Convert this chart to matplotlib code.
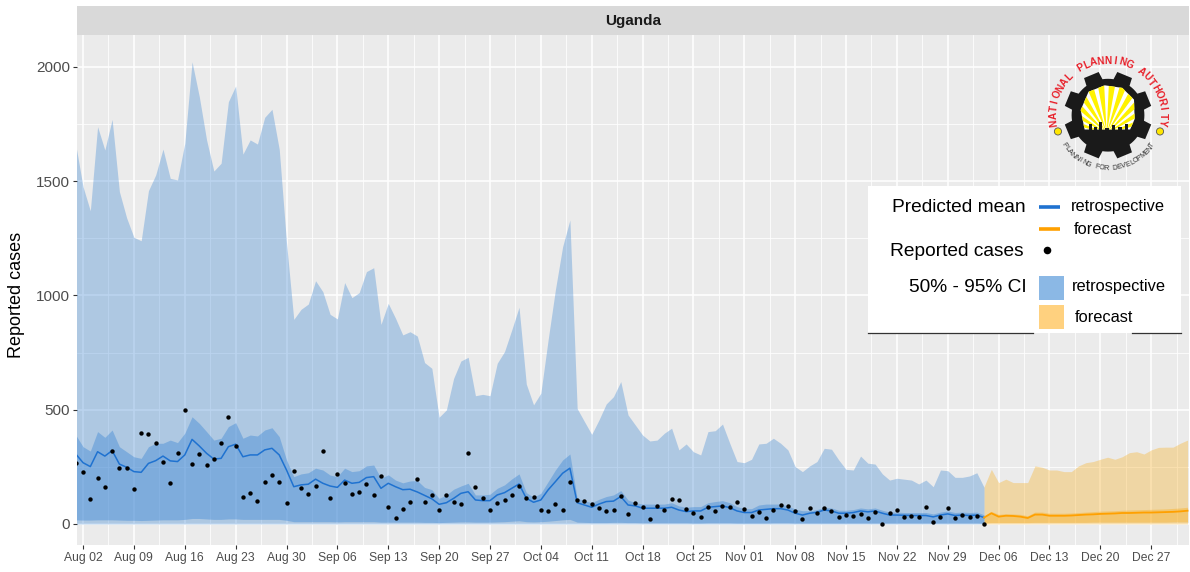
import numpy as np
import pandas as pd
import matplotlib
matplotlib.use('Agg')
import matplotlib.pyplot as plt
from matplotlib.patches import Rectangle, Polygon, Circle, Wedge
from matplotlib.lines import Line2D

plt.rcParams['font.family'] = ['Liberation Sans', 'DejaVu Sans']

# ---------------- data ----------------
country = "Uganda"
retro_start = "2021-08-01"
fore_start = "2021-12-04"

retro_upper95 = [1658,1475,1370,1738,1636,1770,1454,1339,1254,1239,
                 1458,1527,1640,1512,1505,1665,2022,1869,1680,1544,
                 1578,1847,1916,1618,1680,1662,1779,1814,1639,1230,
                 895,939,962,1064,1016,917,897,1056,990,1012,
                 1104,1121,873,965,900,827,841,822,706,681,
                 467,499,637,713,729,561,567,561,703,754,
                 849,948,612,521,572,805,1024,1213,1330,505,
                 448,392,455,525,557,623,477,433,389,363,
                 367,397,419,324,350,316,302,404,408,437,
                 353,273,268,283,350,353,375,353,324,251,
                 229,254,273,331,327,280,239,236,297,266,
                 262,219,192,200,196,192,175,192,163,236,
                 233,204,204,210,224,160]
retro_upper50 = [389,338,319,404,379,411,338,316,294,287,
                 338,353,353,367,356,397,469,440,404,367,
                 375,426,443,375,389,385,411,421,382,280,
                 207,219,224,244,236,214,207,244,229,233,
                 254,258,200,215,192,180,188,190,160,150,
                 112,127,152,166,178,127,127,130,156,171,
                 197,219,137,117,134,185,236,280,306,112,
                 102,93,108,120,127,146,105,93,87,87,
                 87,87,93,79,73,76,76,93,98,102,
                 93,76,67,67,83,87,87,87,79,65,
                 58,58,63,73,70,60,60,63,70,66,
                 70,60,52,52,50,50,50,50,44,52,
                 57,50,52,50,52,40]
retro_lower50 = [18,17,17,18,18,18,17,16,16,15,
                 16,17,18,18,18,20,24,24,22,20,
                 20,22,22,20,20,20,20,20,20,16,
                 10,10,10,10,10,10,9,10,10,10,
                 10,10,8,8,8,8,8,8,7,7,
                 6,7,8,9,9,8,8,8,9,10,
                 12,14,10,9,10,12,15,18,20,8,
                 7,6,6,6,7,7,6,6,5,5,
                 5,5,5,5,5,4,4,5,5,5,
                 5,4,4,4,4,4,5,5,5,4,
                 4,4,4,4,4,4,4,4,4,4,
                 4,4,4,4,4,4,4,4,4,4,
                 4,4,4,4,4,3]
retro_mean = [306,268,251,316,297,321,262,248,229,226,
              265,277,297,276,273,302,370,341,309,284,
              287,338,349,294,302,302,324,331,302,236,
              163,171,174,196,178,166,160,192,178,182,
              203,207,156,178,163,150,152,140,125,110,
              86,93,112,134,141,105,102,102,127,137,
              156,175,112,95,105,149,185,222,244,93,
              83,73,87,98,100,120,83,79,69,69,
              69,69,73,61,54,57,57,73,76,79,
              71,57,50,50,61,64,67,67,61,47,
              39,47,51,61,57,47,47,50,57,53,
              57,47,39,39,38,37,37,37,31,39,
              44,37,39,37,39,28]
reported = [268,229,109,200,163,319,246,246,152,399,
            392,356,273,181,309,499,261,306,258,284,
            356,469,343,120,134,102,185,216,185,90,
            233,159,131,166,319,112,217,178,131,141,
            174,127,211,76,28,67,98,197,98,127,
            63,127,96,86,312,160,112,61,93,105,
            127,168,115,117,61,58,89,61,182,105,
            101,87,70,57,61,124,44,90,73,22,
            79,61,109,105,64,47,29,73,58,79,
            76,98,64,35,51,28,61,83,79,57,
            20,69,47,69,57,32,39,36,45,25,
            54,0,50,61,31,36,31,73,10,29,
            69,25,38,31,34,0]

fore_upper95 = [163,239,181,196,181,181,181,254,248,236,236,229,229,254,268,
                273,283,292,283,294,312,316,306,324,335,336,336,353,367]
fore_upper50 = [34,55,42,45,44,42,36,52,52,47,47,47,48,50,52,
                54,56,57,58,60,61,62,63,64,65,66,68,70,73]
fore_lower50 = [4,6,6,6,6,6,6,7,7,7,7,7,7,7,7,
                8,8,8,8,8,8,8,8,8,8,8,9,9,9]
fore_mean = [28,47,32,36,35,32,26,41,41,36,36,36,37,39,41,
             42,44,45,46,48,48,49,50,50,51,52,53,55,58]

y_ticks = [0, 500, 1000, 1500, 2000]
x_tick_start, x_tick_end = "2021-08-02", "2021-12-27"

dates_r = pd.date_range(retro_start, periods=len(retro_mean), freq="D")
dates_f = pd.date_range(fore_start, periods=len(fore_mean), freq="D")

# ---------------- figure ----------------
W, H = 1190, 572
fig = plt.figure(figsize=(W / 100, H / 100), dpi=100)

def fx(px):
    return px / W

def fy(py):
    return 1 - py / H

def box(x0, y0, x1, y1):
    return [fx(x0), fy(y1), (x1 - x0) / W, (y1 - y0) / H]

ax = fig.add_axes(box(77, 35, 1189, 545))
ax.set_facecolor("#EBEBEB")
for s in ax.spines.values():
    s.set_visible(False)

blue = "#3D87D4"
orange = "#F9AF20"

ax.fill_between(dates_r, 0, retro_upper95, color=blue, alpha=0.35, lw=0, zorder=2)
ax.fill_between(dates_r, retro_lower50, retro_upper50, color=blue, alpha=0.42, lw=0, zorder=2)
ax.fill_between(dates_f, 0, fore_upper95, color=orange, alpha=0.35, lw=0, zorder=2)
ax.fill_between(dates_f, fore_lower50, fore_upper50, color=orange, alpha=0.42, lw=0, zorder=2)
ax.plot(dates_r, retro_mean, color="#1F72D0", lw=1.1, zorder=3)
ax.plot(dates_f, fore_mean, color="#FFA000", lw=1.3, zorder=3)
ax.scatter(dates_r, reported, s=10, color="black", lw=0, zorder=4)

t0 = pd.Timestamp(retro_start)
ax.set_xlim(t0 + pd.Timedelta(hours=4), t0 + pd.Timedelta(days=153.2))
ax.set_ylim(-92, 2139)

majors = pd.date_range(x_tick_start, x_tick_end, freq="7D")
minors = majors + pd.Timedelta(hours=84)
ax.set_xticks(majors)
ax.set_xticklabels([d.strftime("%b %d") for d in majors])
ax.set_xticks(minors, minor=True)
ax.set_yticks(y_ticks)
ax.set_yticklabels([str(v) for v in y_ticks])
ax.set_yticks([250, 750, 1250, 1750], minor=True)

ax.set_axisbelow(True)
ax.grid(which="major", color="white", lw=1.1)
ax.grid(which="minor", color="white", lw=0.55)
ax.tick_params(which="major", length=3.2, width=0.8, color="#333333")
ax.tick_params(which="minor", length=0)
ax.tick_params(axis="x", labelsize=8.7, labelcolor="#4D4D4D", pad=2)
ax.tick_params(axis="y", labelsize=11, labelcolor="#4D4D4D", pad=2)

# strip
sax = fig.add_axes(box(77, 6, 1189, 35))
sax.set_facecolor("#D9D9D9")
sax.set_xticks([]); sax.set_yticks([])
for s in sax.spines.values():
    s.set_visible(False)
sax.text(0.5, 0.5, country, ha="center", va="center", fontsize=11,
         fontweight="bold", color="#1A1A1A", transform=sax.transAxes)

fig.text(fx(17), fy(295), "Reported cases", rotation=90, ha="center",
         va="center", fontsize=13, color="black")

# ---------------- legend ----------------
lg = fig.add_axes(box(868, 186, 1181, 333))
lg.set_xlim(868, 1181); lg.set_ylim(333, 186)
lg.set_facecolor("white")
lg.set_xticks([]); lg.set_yticks([])
for s in lg.spines.values():
    s.set_visible(False)
tfs, lfs = 13.8, 11.8
lg.text(1026, 207, "Predicted mean", ha="right", va="center", fontsize=tfs)
lg.text(1024, 251, "Reported cases", ha="right", va="center", fontsize=tfs)
lg.text(1027, 288, "50% - 95% CI", ha="right", va="center", fontsize=tfs)
lg.plot([1039, 1060], [207, 207], color="#1F72D0", lw=2.6, solid_capstyle="butt")
lg.plot([1039, 1060], [229, 229], color="#FFA000", lw=2.6, solid_capstyle="butt")
lg.scatter([1047], [250], s=30, color="black", lw=0)
lg.add_patch(Rectangle((1039, 276), 25, 24, color="#8BB8E5", lw=0))
lg.add_patch(Rectangle((1039, 305), 25, 24, color="#FFD17F", lw=0))
lg.text(1071, 206, "retrospective", ha="left", va="center", fontsize=lfs)
lg.text(1074, 230, "forecast", ha="left", va="center", fontsize=lfs)
lg.text(1072, 287, "retrospective", ha="left", va="center", fontsize=lfs)
lg.text(1075, 317, "forecast", ha="left", va="center", fontsize=lfs)
fig.add_artist(Line2D([fx(868), fx(1033)], [fy(333), fy(333)], color="#333333", lw=0.9))
fig.add_artist(Line2D([fx(1132), fx(1181)], [fy(333), fy(333)], color="#333333", lw=0.9))

# ---------------- logo ----------------
lax = fig.add_axes(box(1043, 45, 1173, 175))
lax.set_xlim(-1, 1); lax.set_ylim(-1, 1)
lax.axis("off")
cx, cy = 0.0, -0.08
n_teeth = 8
r_out, r_in = 0.68, 0.56
pts = []
for k in range(n_teeth):
    base = 2 * np.pi * k / n_teeth + np.pi / 8
    for da, r in [(-0.24, r_in), (-0.18, r_out), (0.18, r_out), (0.24, r_in)]:
        a = base + da
        pts.append((cx + r * np.cos(a), cy + r * np.sin(a)))
    for a in np.linspace(base + 0.24, base + 2 * np.pi / n_teeth - 0.24, 5)[1:-1]:
        pts.append((cx + r_in * np.cos(a), cy + r_in * np.sin(a)))
lax.add_patch(Polygon(pts, closed=True, color="#1A1A1A", lw=0))
blob = Polygon([(-0.36, -0.30), (-0.42, 0.0), (-0.30, 0.28), (-0.05, 0.38),
                (0.22, 0.34), (0.40, 0.16), (0.41, -0.14), (0.34, -0.30)],
               closed=True, color="white", lw=0)
lax.add_patch(blob)
for a0 in range(15, 165, 13):
    w = Wedge((-0.02, -0.36), 0.85, a0, a0 + 7.5, color="#FFF200", lw=0)
    lax.add_patch(w)
    w.set_clip_path(blob)
for (x0, h) in [(-0.30, 0.12), (-0.22, 0.07), (-0.14, 0.14), (-0.04, 0.05),
                (0.06, 0.10), (0.16, 0.07), (0.26, 0.11)]:
    lax.add_patch(Rectangle((x0, -0.33), 0.05, h, color="#1A1A1A", lw=0))
lax.add_patch(Rectangle((-0.36, -0.36), 0.72, 0.05, color="#1A1A1A", lw=0))
txt = "NATIONAL PLANNING AUTHORITY"
angs = np.linspace(188, -8, len(txt))
for ch, a in zip(txt, angs):
    r = 0.84
    lax.text(cx + r * np.cos(np.radians(a)), cy + r * np.sin(np.radians(a)), ch,
             rotation=a - 90, ha="center", va="center", fontsize=7.2,
             fontweight="bold", color="#E8202A")
txt2 = "PLANNING FOR DEVELOPMENT"
angs2 = np.linspace(214, 326, len(txt2))
for ch, a in zip(txt2, angs2):
    r = 0.82
    lax.text(cx + r * np.cos(np.radians(a)), cy + r * np.sin(np.radians(a)), ch,
             rotation=a + 90, ha="center", va="center", fontsize=5.2,
             color="#333333")
for xd in (-0.77, 0.80):
    lax.add_patch(Circle((xd, -0.33), 0.055, facecolor="#FFE600", edgecolor="#555555", lw=0.6))

fig.savefig("out.png", dpi=100)
